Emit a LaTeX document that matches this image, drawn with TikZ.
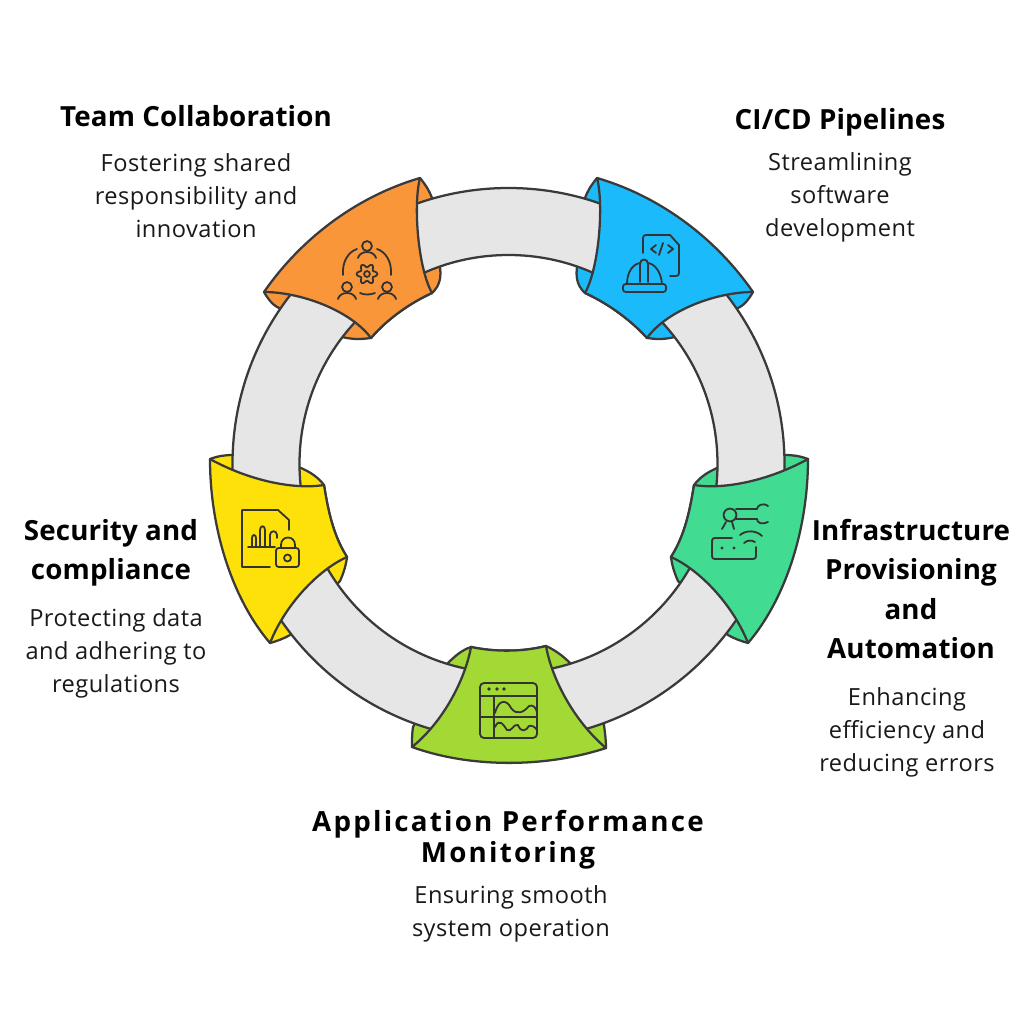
\documentclass[tikz,border=0pt]{standalone}
\usepackage{fontspec}
\setmainfont{Open Sans}
\newfontfamily\headfont[LetterSpace=0.5]{Open Sans}
\newfontfamily\widefont[LetterSpace=8]{Open Sans}
\newfontfamily\bodyfont[LetterSpace=2]{Open Sans}
\definecolor{inkline}{HTML}{3A3A3A}
\definecolor{ringgrey}{HTML}{E6E6E6}
\definecolor{teamorange}{HTML}{F9963A}
\definecolor{cicdblue}{HTML}{1BBBFB}
\definecolor{infragreen}{HTML}{42DB92}
\definecolor{monlime}{HTML}{A3D935}
\definecolor{secyellow}{HTML}{FFE10A}

\begin{document}
\begin{tikzpicture}[x=0.75pt, y=-0.75pt,
    patch/.style={draw=inkline, line width=1.7pt, line join=round},
    iconline/.style={draw=black!80, line width=1.35pt, line cap=round, line join=round},
    headlabel/.style={font=\headfont\bfseries\fontsize{20.8}{29.5}\selectfont, align=center, text=black, inner sep=0pt},
    widelabel/.style={font=\widefont\bfseries\fontsize{20.8}{23}\selectfont, align=center, text=black, inner sep=0pt},
    bodylabel/.style={font=\bodyfont\fontsize{17.7}{24.75}\selectfont, align=center, text=black!90, inner sep=0pt}]
    \useasboundingbox (0,0) rectangle (1024,1024);
    % flaps behind the ring
    \fill[white] (0,0) rectangle (1024,1024);
    \path[patch, fill=teamorange] (264,292) .. controls (268,299) and (272,304) .. (277,307) -- (342,337)
        .. controls (355,340) and (362,339) .. (371,338) .. controls (388,318) and (412,302) .. (432,293)
        .. controls (441,285) and (441,275) .. (440,267) -- (432,198)
        .. controls (429,190) and (425,184) .. (420,178) -- cycle;
    \path[patch, fill=cicdblue] (753,292) .. controls (749,299) and (745,304) .. (740,307) -- (675,337)
        .. controls (662,340) and (655,339) .. (647,338) .. controls (629,318) and (605,302) .. (585,293)
        .. controls (576,285) and (576,275) .. (577,267) -- (585,198)
        .. controls (588,190) and (592,184) .. (597,178) -- cycle;
    \path[patch, fill=infragreen] (694,485) .. controls (700,477) and (708,472) .. (717,468) -- (785,455)
        .. controls (793,455) and (800,456) .. (808,459) -- (748,643)
        .. controls (741,641) and (735,639) .. (728,635) -- (678,581)
        .. controls (674,572) and (672,565) .. (671,557) .. controls (685,535) and (690,510) .. (694,485) -- cycle;
    \path[patch, fill=secyellow] (324,485) .. controls (318,477) and (310,472) .. (301,468) -- (233,455)
        .. controls (225,455) and (218,456) .. (210,459) -- (270,643)
        .. controls (277,641) and (283,639) .. (290,635) -- (340,581)
        .. controls (344,572) and (346,565) .. (347,557) .. controls (333,535) and (328,510) .. (324,485) -- cycle;
    \path[patch, fill=monlime] (471,647) .. controls (462,650) and (455,656) .. (448,663) -- (413,727)
        .. controls (412,733) and (412,740) .. (412,747) -- (606,748)
        .. controls (606,740) and (605,733) .. (604,725) -- (570,663)
        .. controls (563,656) and (555,650) .. (546,646) .. controls (522,652) and (495,652) .. (471,647) -- cycle;
    % ring
    \path[patch, fill=ringgrey, even odd rule] (508.5,464) circle[radius=207pt] (508.5,464) circle[radius=156.75pt];
    % fronts
    \path[patch, fill=teamorange] (264,292) .. controls (300,240) and (355,197) .. (420,178)
        .. controls (413,205) and (418,268) .. (432,293)
        .. controls (412,302) and (388,318) .. (371,338)
        .. controls (350,310) and (300,292) .. (264,292) -- cycle;
    \path[patch, fill=cicdblue] (753,292) .. controls (717,240) and (662,197) .. (597,178)
        .. controls (604,205) and (599,268) .. (585,293)
        .. controls (605,302) and (629,318) .. (647,338)
        .. controls (667,310) and (717,292) .. (753,292) -- cycle;
    \path[patch, fill=infragreen] (694,485) .. controls (725,490) and (770,480) .. (808,459)
        .. controls (808,530) and (785,600) .. (748,643)
        .. controls (733,605) and (700,570) .. (671,557)
        .. controls (685,535) and (690,510) .. (694,485) -- cycle;
    \path[patch, fill=secyellow] (324,485) .. controls (293,490) and (248,480) .. (210,459)
        .. controls (210,530) and (233,600) .. (270,643)
        .. controls (285,605) and (318,570) .. (347,557)
        .. controls (333,535) and (328,510) .. (324,485) -- cycle;
    \path[patch, fill=monlime] (471,647) .. controls (495,652) and (522,652) .. (546,646)
        .. controls (552,680) and (575,722) .. (606,748)
        .. controls (545,768) and (470,768) .. (412,747)
        .. controls (443,722) and (465,680) .. (471,647) -- cycle;
    % team icon
    \draw[iconline] plot[domain=0:360, samples=73, smooth] ({367+(8.5+1.8*cos(6*\x))*cos(\x)},{274+(8.5+1.8*cos(6*\x))*sin(\x)});
    \draw[iconline] (367,274) circle[radius=2.2pt];
    \draw[iconline] (367,246) circle[radius=3.7pt] (347,287) circle[radius=3.7pt] (387,287) circle[radius=3.7pt];
    \draw[iconline] (358,258) .. controls (360,250) and (374,250) .. (376,258)
        (338,299) .. controls (340,291) and (354,291) .. (356,299)
        (378,299) .. controls (380,291) and (394,291) .. (396,299);
    \draw[iconline] (357,249) .. controls (348,252) and (342,262) .. (343,275)
        (377,249) .. controls (386,252) and (392,262) .. (391,275)
        (360,293) .. controls (364,295) and (370,295) .. (375,293);
    % cicd icon
    \draw[iconline] (643,253) -- (643,238) .. controls (643,236) and (644,235) .. (646,235) -- (670,235) -- (679,245) -- (679,273)
        .. controls (679,275) and (678,276) .. (676,276) -- (670,276);
    \draw[iconline] (656,245) -- (651,249) -- (656,253) (659,255) -- (663,243) (668,245) -- (673,249) -- (668,253);
    \draw[iconline, rounded corners=2pt] (623,284) rectangle (666,292);
    \draw[iconline] (627,284) .. controls (627,272) and (633,264) .. (640,263)
        (648,263) .. controls (655,264) and (661,272) .. (662,284)
        (640,282) -- (640,264) .. controls (640,258) and (648,258) .. (648,264) -- (648,282);
    % infra icon
    \draw[iconline] (730,515) circle[radius=4.8pt];
    \draw[iconline] (736,509) -- (757,509) (736,519) -- (757,519);
    \draw[iconline] (768,506) .. controls (762,502) and (757,506) .. (757,509) (757,519) .. controls (757,523) and (762,525) .. (768,522);
    \draw[iconline] (726,522) -- (722,529) (732,522) -- (734,529);
    \draw[iconline, rounded corners=2pt] (732,538) -- (712,538) -- (712,559) -- (756,559) -- (756,547);
    \fill[black!80] (722,548) circle[radius=1.3pt] (734,548) circle[radius=1.3pt];
    \draw[iconline] (744,543) .. controls (747,540) and (752,540) .. (755,542)
        (740,535) .. controls (746,530) and (756,530) .. (762,536);
    % monitor icon
    \draw[iconline, rounded corners=3pt] (480,683) rectangle (537,738);
    \fill[black!80] (489,689) circle[radius=1.4pt] (497,689) circle[radius=1.4pt] (504,689) circle[radius=1.4pt];
    \draw[iconline] (480,696) -- (537,696) (494,696) -- (494,738) (480,717) -- (537,717);
    \draw[iconline] (495,713) .. controls (499,698) and (507,700) .. (511,708) .. controls (517,716) and (524,712) .. (529,706) .. controls (533,704) and (536,708) .. (537,712);
    \draw[iconline] (495,727) .. controls (499,718) and (503,724) .. (507,730) .. controls (511,733) and (514,723) .. (518,725) .. controls (521,733) and (526,731) .. (529,726) .. controls (532,725) and (535,727) .. (537,730);
    % security icon
    \draw[iconline] (270,567) -- (242,567) -- (242,510) -- (278,510) -- (289,520) -- (289,530);
    \draw[iconline] (248,547) -- (275,547);
    \draw[iconline] (252,547) -- (252,538) .. controls (252,534) and (256,534) .. (256,538) -- (256,547)
        (260,547) -- (260,530) .. controls (260,525) and (265,525) .. (265,530) -- (265,547)
        (270,547) -- (270,535) .. controls (270,530) and (277,530) .. (277,535) -- (277,538);
    \draw[iconline, rounded corners=2pt] (276,548) rectangle (299,567);
    \draw[iconline] (281,548) -- (281,545) .. controls (281,535) and (295,535) .. (295,545) -- (295,548);
    \draw[iconline] (287.5,558) circle[radius=2.6pt];
    % labels
    \node[headlabel] (teamhead) at (196,116) {Team Collaboration};
    \node[bodylabel] (teambody) at (196,196) {Fostering shared\\responsibility and\\innovation};
    \node[headlabel] (cicdhead) at (840,122) {CI/CD Pipelines};
    \node[bodylabel] (cicdbody) at (840,197) {Streamlining\\software\\development};
    \node[headlabel] (infrahead) at (911,589) {Infrastructure\\Provisioning\\and\\Automation};
    \node[bodylabel] (infrabody) at (907,732) {Enhancing\\efficiency and\\reducing errors};
    \node[headlabel] (sechead) at (111,553) {Security and\\compliance};
    \node[bodylabel] (secbody) at (116,653) {Protecting data\\and adhering to\\regulations};
    \node[widelabel] (monhead) at (508,840) {Application Performance\\Monitoring};
    \node[bodylabel] (monbody) at (511,914) {Ensuring smooth\\system operation};
\end{tikzpicture}
\end{document}
